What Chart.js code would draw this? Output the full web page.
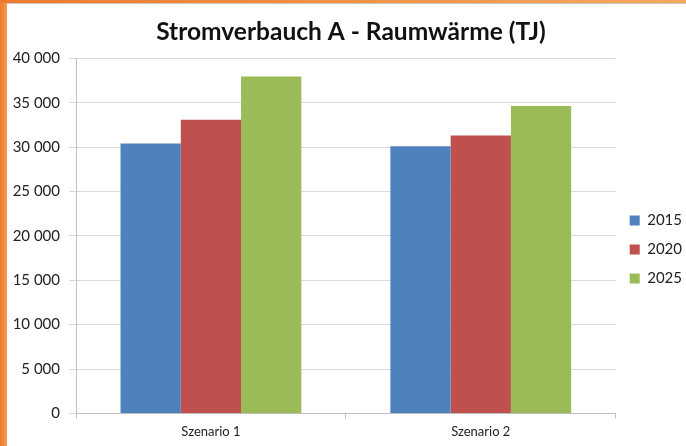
<!DOCTYPE html>
<html>
<head>
<meta charset="utf-8">
<script src="https://cdn.jsdelivr.net/npm/chart.js"></script>
<style>
  html, body { margin: 0; padding: 0; width: 686px; height: 446px; overflow: hidden; background: #fff; }
  #rand-links { position: absolute; left: 0; top: 0; width: 7px; height: 446px;
    background: linear-gradient(to right, #ee7a2e, #f59a52); }
  #rand-oben { position: absolute; left: 0; top: 0; width: 686px; height: 3px;
    background: linear-gradient(to right, #ee7a2e, #f5a860); }
  #linie-oben { position: absolute; left: 7px; top: 3px; width: 679px; height: 1px; background: #c8c8c8; }
  #box { position: absolute; left: 0; top: 0; width: 686px; height: 446px; }
</style>
</head>
<body>
<div id="rand-links"></div>
<div id="rand-oben"></div>
<div id="linie-oben"></div>
<div id="box"><canvas id="chart"></canvas></div>
<script>
const kategorien = ["Szenario 1", "Szenario 2"];
const jahre = ["2015", "2020", "2025"];
const werte2015 = [30400, 30100];
const werte2020 = [33100, 31300];
const werte2025 = [37950, 34650];
const farben = ["#4f81bd", "#c0504d", "#9bbb59"];

function fmtTausend(v) {
  return String(v).replace(/\B(?=(\d{3})+(?!\d))/g, " ");
}

const schrift = "Lato, 'Open Sans', sans-serif";
const gitter = "#d9d9d9";

const chartCfg = {
  type: "bar",
  data: {
    labels: kategorien,
    datasets: [werte2015, werte2020, werte2025].map((d, i) => ({
      label: jahre[i],
      data: d,
      backgroundColor: farben[i],
      borderWidth: 0,
      barPercentage: 1.0,
      categoryPercentage: 0.67,
    })),
  },
  options: {
    responsive: false,
    animation: false,
    devicePixelRatio: 1,
    layout: { padding: { left: 10, right: -6, top: 12, bottom: 0 } },
    plugins: {
      title: {
        display: true,
        text: "Stromverbauch A - Raumwärme (TJ)",
        color: "#111",
        font: { family: schrift, size: 24.5, weight: "bold" },
        padding: { top: 5, bottom: 12 },
      },
      legend: {
        position: "right",
        title: {
          display: true,
          text: "",
          font: { size: 10 },
          padding: { top: 29, bottom: 0 },
        },
        labels: {
          color: "#222",
          font: { family: schrift, size: 15 },
          boxWidth: 10,
          boxHeight: 10,
          padding: 14,
        },
      },
      tooltip: { enabled: false },
    },
    scales: {
      x: {
        grid: {
          display: true,
          drawOnChartArea: false,
          drawTicks: true,
          tickLength: 5,
          color: "#bfbfbf",
          offset: true,
        },
        border: { display: true, color: "#bfbfbf" },
        ticks: {
          color: "#222",
          font: { family: schrift, size: 13 },
          padding: 6,
        },
      },
      y: {
        min: 0,
        max: 40000,
        afterFit: (scale) => { scale.width = 66; },
        grid: { color: gitter, tickLength: 7, drawTicks: true },
        border: { display: true, color: "#bfbfbf" },
        ticks: {
          stepSize: 5000,
          color: "#222",
          font: { family: schrift, size: 15 },
          padding: 9,
          callback: (v) => fmtTausend(v),
        },
      },
    },
  },
};

const cv = document.getElementById("chart");
cv.width = 686;
cv.height = 446;
const chart = new Chart(cv, chartCfg);
</script>
</body>
</html>
